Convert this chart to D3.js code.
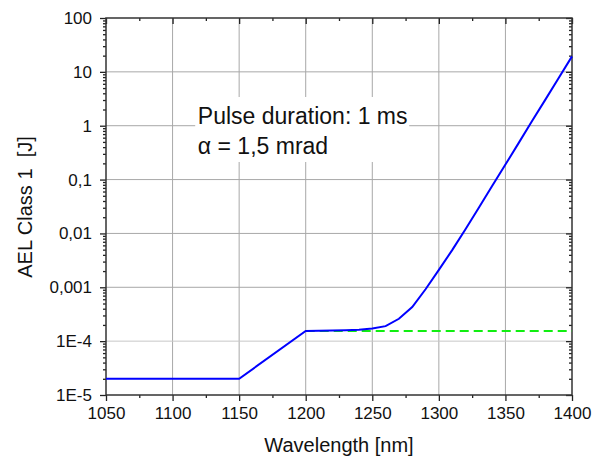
<!DOCTYPE html>
<html>
<head>
<meta charset="utf-8">
<script src="https://cdn.jsdelivr.net/npm/d3@7"></script>
<style>
  body { margin: 0; background: #fff; }
  svg text { font-family: Arial, "Liberation Sans", sans-serif; fill: #111; }
</style>
</head>
<body>
<div id="chart"></div>
<script>
// AEL curve
var wavelengths = [1050, 1100, 1150, 1200, 1210, 1220, 1230, 1240, 1250, 1260, 1270, 1280, 1290,
                   1300, 1310, 1320, 1330, 1340, 1350, 1360, 1370, 1380, 1390, 1400];
var aelValues = [2e-5, 2e-5, 2e-5, 1.55e-4, 1.56e-4, 1.57e-4, 1.59e-4, 1.63e-4, 1.72e-4, 1.9e-4, 2.6e-4, 4.3e-4, 9.2e-4,
                 2.1e-3, 4.9e-3, 1.2e-2, 3.0e-2, 7.6e-2, 0.19, 0.48, 1.22, 3.05, 7.7, 19.4];
// dashed reference level
var refWavelengths = [1200, 1400];
var refValues = [1.55e-4, 1.55e-4];

var xTicks = [1050, 1100, 1150, 1200, 1250, 1300, 1350, 1400];
var yTicks = [1e-5, 1e-4, 1e-3, 1e-2, 1e-1, 1, 10, 100];
var yTickLabels = ["1E-5", "1E-4", "0,001", "0,01", "0,1", "1", "10", "100"];
var noteLines = ["Pulse duration: 1 ms", "\u03b1 = 1,5 mrad"];

var margin = {top: 18, right: 28, bottom: 65, left: 106},
    width = 600 - margin.left - margin.right,
    height = 460 - margin.top - margin.bottom;

var svg = d3.select("#chart")
    .append("svg")
    .attr("width", 600)
    .attr("height", 460);

var g = svg.append("g")
    .attr("transform", "translate(" + margin.left + "," + margin.top + ")");

var x = d3.scaleLinear().domain([1050, 1400]).range([0, width]);
var y = d3.scaleLog().domain([1e-5, 100]).range([height, 0]);

// minor ticks
var xMinor = d3.range(1075, 1400, 50);
var yMinor = [];
yTicks.slice(0, -1).forEach(function(d){
    for (var k = 2; k <= 9; k++) yMinor.push(d * k);
});

// grid
g.selectAll(".gx")
    .data(xTicks.slice(1, -1))
    .enter().append("line")
      .attr("x1", function(d){ return x(d); })
      .attr("x2", function(d){ return x(d); })
      .attr("y1", 0).attr("y2", height)
      .style("stroke", "#a8a8a8").style("stroke-width", 1);

g.selectAll(".gy")
    .data(yTicks.slice(1, -1))
    .enter().append("line")
      .attr("x1", 0).attr("x2", width)
      .attr("y1", function(d){ return y(d); })
      .attr("y2", function(d){ return y(d); })
      .style("stroke", function(d){ return d === 1e-4 ? "#c8c8c8" : "#a8a8a8"; })
      .style("stroke-width", 1);

// axes
var fmtY = function(d){ return yTickLabels[yTicks.indexOf(d)]; };

var axBottom = g.append("g").attr("transform", "translate(0," + height + ")")
    .call(d3.axisBottom(x).tickValues(xTicks).tickSize(6).tickPadding(6).tickFormat(d3.format("d")));
var axBottomMinor = g.append("g").attr("transform", "translate(0," + height + ")")
    .call(d3.axisBottom(x).tickValues(xMinor).tickSize(3).tickFormat(""));
var axTop = g.append("g")
    .call(d3.axisBottom(x).tickValues(xTicks).tickSize(6).tickFormat(""));
var axTopMinor = g.append("g")
    .call(d3.axisBottom(x).tickValues(xMinor).tickSize(3).tickFormat(""));

var axLeft = g.append("g")
    .call(d3.axisLeft(y).tickValues(yTicks).tickSize(6).tickPadding(8).tickFormat(fmtY));
var axLeftMinor = g.append("g")
    .call(d3.axisLeft(y).tickValues(yMinor).tickSize(3).tickFormat(""));
var axRight = g.append("g").attr("transform", "translate(" + width + ",0)")
    .call(d3.axisLeft(y).tickValues(yTicks).tickSize(6).tickFormat(""));
var axRightMinor = g.append("g").attr("transform", "translate(" + width + ",0)")
    .call(d3.axisLeft(y).tickValues(yMinor).tickSize(3).tickFormat(""));

[axBottom, axBottomMinor, axTop, axTopMinor, axLeft, axLeftMinor, axRight, axRightMinor].forEach(function(a){
    a.select(".domain").remove();
    a.selectAll("line").style("stroke", "#222").style("stroke-width", 1.3);
});
axBottom.selectAll("text").style("font-size", "17px").style("fill", "#111");
axLeft.selectAll("text").style("font-size", "17px").style("fill", "#111");

// frame
g.append("rect")
    .attr("x", 0).attr("y", 0)
    .attr("width", width).attr("height", height)
    .style("fill", "none").style("stroke", "#333").style("stroke-width", 1.5);

// curves
var line = d3.line()
    .x(function(d){ return x(d[0]); })
    .y(function(d){ return y(d[1]); });

g.append("path")
    .datum(d3.zip(refWavelengths, refValues))
    .attr("d", line)
    .style("fill", "none").style("stroke", "#11ee11").style("stroke-width", 2)
    .style("stroke-dasharray", "9,5");

g.append("path")
    .datum(d3.zip(wavelengths, aelValues))
    .attr("d", line)
    .style("fill", "none").style("stroke", "#0000ff").style("stroke-width", 2);

// note box
g.append("rect")
    .attr("x", x(1117)).attr("y", 79)
    .attr("width", 214).attr("height", 65)
    .style("fill", "#fff");

g.selectAll(".note")
    .data(noteLines)
    .enter().append("text")
      .attr("x", x(1119))
      .attr("y", function(d, i){ return 106 + i * 30; })
      .style("font-size", "23px")
      .text(function(d){ return d; });

// axis titles
svg.append("text")
    .attr("x", margin.left + width / 2)
    .attr("y", 452)
    .attr("text-anchor", "middle")
    .style("font-size", "20px")
    .text("Wavelength [nm]");

svg.append("text")
    .attr("transform", "translate(32,207) rotate(-90)")
    .attr("text-anchor", "middle")
    .style("font-size", "20px")
    .style("white-space", "pre")
    .text("AEL Class 1  [J]");
</script>
</body>
</html>
